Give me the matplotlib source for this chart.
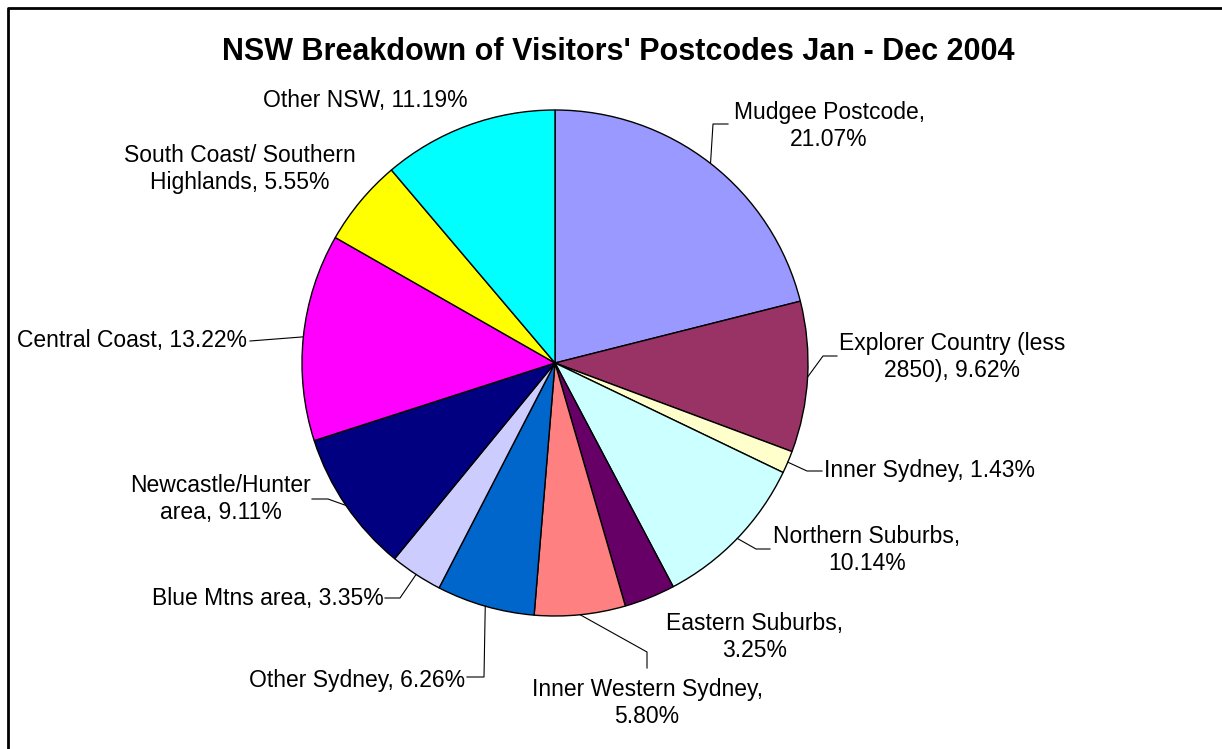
import textwrap
import numpy as np
import matplotlib
matplotlib.use("Agg")
import matplotlib.pyplot as plt

# Dados
regioes = ["Mudgee Postcode", "Explorer Country (less 2850)", "Inner Sydney",
           "Northern Suburbs", "Eastern Suburbs", "Inner Western Sydney",
           "Other Sydney", "Blue Mtns area", "Newcastle/Hunter area",
           "Central Coast", "South Coast/ Southern Highlands", "Other NSW"]
percentuais = [21.07, 9.62, 1.43, 10.14, 3.25, 5.80, 6.26, 3.35, 9.11, 13.22, 5.55, 11.19]
cores = ["#9999FF", "#993366", "#FFFFCC", "#CCFFFF", "#660066", "#FF8080",
         "#0066CC", "#CCCCFF", "#000080", "#FF00FF", "#FFFF00", "#00FFFF"]

# Layout (pixels da figura)
largura_quebra = [16, 22, None, 17, 16, 21, None, None, 16, None, 21, None]
pos_rotulos = [(829, 126), (952, 357), (930, 470), (867, 550), (755, 637), (647, 703),
               (357, 681), (268, 599), (221, 499), (132, 341), (240, 169), (365, 100)]
guias = [[(713, 124), (728, 124)], [(823, 356), (837, 356)], [(807, 471), (822, 471)],
         [(756, 549), (770, 549)], None, [(647, 652), (647, 668)],
         [(484, 677), (467, 677)], [(400, 598), (385, 598)], [(328, 499), (312, 499)],
         [(250, 341)], None, None]
centro = (555, 363)
raio = 253

plt.rcParams['font.family'] = ['Liberation Sans', 'DejaVu Sans']

fig = plt.figure(figsize=(12.22, 7.49), dpi=100)
ax = fig.add_axes([0, 0, 1, 1])

wedges, _ = ax.pie(percentuais, colors=cores, startangle=-90, counterclock=True,
                   center=centro, radius=raio,
                   wedgeprops=dict(edgecolor='black', linewidth=1.0))
ax.set_xlim(0, 1222)
ax.set_ylim(749, 0)
ax.set_aspect('equal')
ax.axis('off')

# Rotulos e linhas guia
for w, nome, v, larg, pos, guia in zip(wedges, regioes, percentuais, largura_quebra, pos_rotulos, guias):
    texto = f"{nome}, {v:.2f}%"
    if larg:
        texto = textwrap.fill(texto, larg)
    ax.text(pos[0], pos[1], texto, ha='center', va='center', multialignment='center',
            fontsize=16.5, linespacing=1.2, color='black')
    if guia:
        ang = np.deg2rad((w.theta1 + w.theta2) / 2)
        x0 = centro[0] + raio * np.cos(ang)
        y0 = centro[1] + raio * np.sin(ang)
        xs = [x0] + [p[0] for p in guia]
        ys = [y0] + [p[1] for p in guia]
        ax.plot(xs, ys, color='black', linewidth=0.8)

ax.text(618, 52, "NSW Breakdown of Visitors' Postcodes Jan - Dec 2004",
        ha='center', va='center', fontsize=22, fontweight='bold')

# Borda
ax.plot([8, 8, 1222], [749, 8, 8], color='black', linewidth=2, clip_on=False)

fig.savefig("out.png", dpi=100)
